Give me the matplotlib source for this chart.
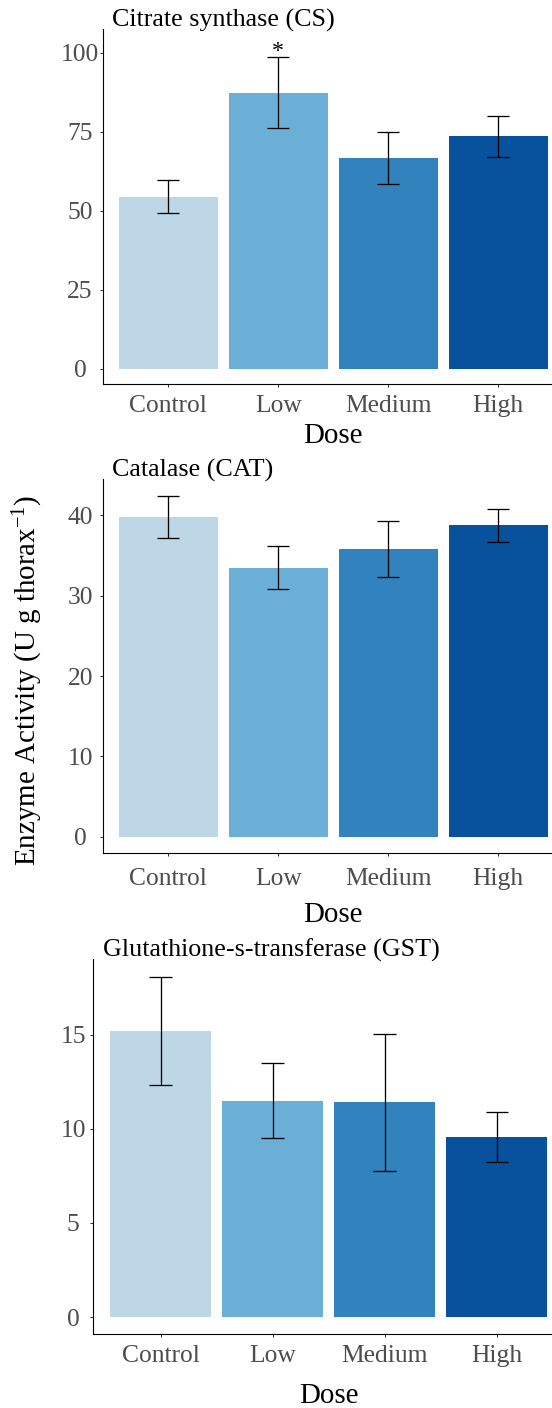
import numpy as np
import matplotlib
matplotlib.use('Agg')
import matplotlib.pyplot as plt

plt.rcParams['font.family'] = ['Liberation Serif', 'DejaVu Serif']
plt.rcParams['mathtext.fontset'] = 'custom'
plt.rcParams['mathtext.rm'] = 'Liberation Serif'
plt.rcParams['mathtext.default'] = 'regular'

# %% data: mean enzyme activity and standard error per dose group
doses = ['Control', 'Low', 'Medium', 'High']
dose_colors = ['#bdd7e7', '#6baed6', '#3182bd', '#08519c']

cs_mean = [54.5, 87.4, 66.7, 73.5]
cs_se = [5.2, 11.2, 8.3, 6.6]
cs_ticks = [0, 25, 50, 75, 100]

cat_mean = [39.8, 33.5, 35.8, 38.8]
cat_se = [2.6, 2.65, 3.45, 2.05]
cat_ticks = [0, 10, 20, 30, 40]

gst_mean = [15.2, 11.5, 11.4, 9.55]
gst_se = [2.87, 2.0, 3.65, 1.33]
gst_ticks = [0, 5, 10, 15]

# significant difference from control (CS, Low dose)
star_dose = 1

# %% layout in pixels (figure drawn at 72 dpi so 1 pt = 1 px)
W, H = 552, 1408
DPI = 72
RIGHT = 564  # panels run slightly past the right edge of the figure

panels = [
    # title, means, se, ticks, ylim, left, top, bottom, ytick pad, xtick offset, xlabel offset
    ('Citrate synthase (CS)', cs_mean, cs_se, cs_ticks, (-4.8, 107.4), 102.5, 29.3, 384.0, 19.5, 28, 59),
    ('Catalase (CAT)', cat_mean, cat_se, cat_ticks, (-2.05, 44.5), 102.5, 479.3, 853.3, 19, 31.5, 68.5),
    ('Glutathione-s-transferase (GST)', gst_mean, gst_se, gst_ticks, (-0.9, 19.0), 93.3, 959.3, 1334.0, 17, 28, 69),
]

fig = plt.figure(figsize=(W / DPI, H / DPI), dpi=DPI)
x = np.arange(len(doses))

for i, (title, mean, se, ticks, ylim, left, top, bottom, ypad, xoff, loff) in enumerate(panels):
    ax = fig.add_axes([left / W, 1 - bottom / H, (RIGHT - left) / W, (bottom - top) / H])
    mean = np.array(mean)
    se = np.array(se)

    ax.bar(x, mean, width=0.9, color=dose_colors, edgecolor='none', zorder=2)
    lo, hi = mean - se, mean + se
    ax.vlines(x, lo, hi, color='black', lw=1.3, zorder=3)
    ax.hlines(lo, x - 0.1, x + 0.1, color='black', lw=1.3, zorder=3)
    ax.hlines(hi, x - 0.1, x + 0.1, color='black', lw=1.3, zorder=3)

    if i == 0:
        ax.annotate('*', xy=(star_dose, hi[star_dose]), xytext=(0, 0.5),
                    textcoords='offset points', ha='center', va='baseline', fontsize=24)

    ax.set_xlim(-0.6, len(doses) - 0.4)
    ax.set_ylim(*ylim)
    ax.set_yticks(ticks)
    ax.set_xticks(x)
    ax.set_xticklabels(doses)

    for side in ['top', 'right']:
        ax.spines[side].set_visible(False)
    for side in ['left', 'bottom']:
        ax.spines[side].set_linewidth(1.1)
        ax.spines[side].set_color('black')

    ax.tick_params(axis='both', length=3, width=1, color='#333333',
                   labelsize=25.5, labelcolor='#4d4d4d')
    ax.tick_params(axis='y', pad=ypad)
    ax.tick_params(axis='x', pad=xoff - 3)
    for lab in ax.get_yticklabels():
        lab.set_ha('center')
    for lab in ax.get_xticklabels():
        lab.set_va('baseline')

    ax.set_xlabel('Dose', fontsize=29, color='black')
    ax.xaxis.label.set_va('baseline')
    ax.xaxis.set_label_coords(0.5, -loff / (bottom - top))

    ax.annotate(title, xy=(0, 1), xycoords='axes fraction', xytext=(10, 2.5),
                textcoords='offset points', ha='left', va='baseline', fontsize=26)

fig.text(28 / W, 1 - 680.5 / H, 'Enzyme Activity (U g thorax$^{-1}$)',
         rotation=90, ha='center', va='center', fontsize=29)

fig.savefig('out.png', dpi=DPI)
